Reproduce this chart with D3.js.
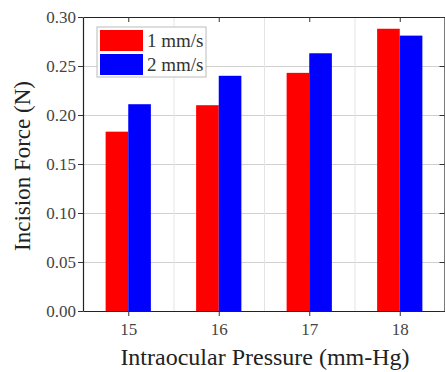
<!DOCTYPE html>
<html>
<head>
<meta charset="utf-8">
<script src="https://cdn.jsdelivr.net/npm/d3@7"></script>
<style>
  body { margin: 0; background: #fff; }
</style>
</head>
<body>
<div id="chart"></div>
<script>
// data
const pressures = [15, 16, 17, 18];
const speed1 = [0.183, 0.210, 0.243, 0.288];
const speed2 = [0.211, 0.240, 0.263, 0.281];
const seriesNames = ['1 mm/s', '2 mm/s'];
const seriesColors = ['#ff0000', '#0000ff'];
const yTicks = [0, 0.05, 0.10, 0.15, 0.20, 0.25, 0.30];

const FONT = 'Liberation Serif';
const W = 445, H = 372;
const margin = { top: 17, right: 0, bottom: 61, left: 83 };
const width = W - margin.left - margin.right;
const height = H - margin.top - margin.bottom;

const svg = d3.select('#chart').append('svg')
  .attr('width', W)
  .attr('height', H)
  .style('font-family', FONT);

const g = svg.append('g')
  .attr('transform', `translate(${margin.left},${margin.top})`);

const x = d3.scaleLinear().domain([14.5, 18.5]).range([0, width]);
const y = d3.scaleLinear().domain([0, 0.30]).range([height, 0]);
const barW = x(15.25) - x(15);

// grid
g.append('g').selectAll('line')
  .data(yTicks.slice(1, -1))
  .join('line')
  .attr('x1', 0).attr('x2', width)
  .attr('y1', d => y(d) + 0.5).attr('y2', d => y(d) + 0.5)
  .attr('stroke', '#d0d0d0').attr('stroke-width', 1);
g.append('g').selectAll('line')
  .data([15.5, 16.5, 17.5])
  .join('line')
  .attr('x1', d => x(d) + 0.5).attr('x2', d => x(d) + 0.5)
  .attr('y1', 0).attr('y2', height)
  .attr('stroke', '#e4e4e4').attr('stroke-width', 1);

// bars
[speed1, speed2].forEach((vals, si) => {
  g.append('g').selectAll('rect')
    .data(vals)
    .join('rect')
    .attr('x', (d, i) => x(pressures[i]) - barW + si * barW)
    .attr('y', d => y(d))
    .attr('width', barW)
    .attr('height', d => height - y(d))
    .attr('fill', seriesColors[si]);
});

// axes
const yAxis = g.append('g')
  .call(d3.axisLeft(y).tickValues(yTicks).tickFormat(d3.format('.2f')).tickSize(5).tickSizeOuter(0));
const xAxis = g.append('g')
  .attr('transform', `translate(0,${height})`)
  .call(d3.axisBottom(x).tickValues(pressures).tickFormat(d3.format('d')).tickSize(5).tickSizeOuter(0));
g.append('g')
  .call(d3.axisTop(x).tickValues(pressures).tickFormat('').tickSize(-5).tickSizeOuter(0));
g.append('g')
  .attr('transform', `translate(${width - 0.5},0)`)
  .call(d3.axisRight(y).tickValues(yTicks).tickFormat('').tickSize(-5).tickSizeOuter(0));

g.selectAll('.domain').attr('stroke', '#222').attr('stroke-width', 1.2);
g.selectAll('.tick line').attr('stroke', '#333');
yAxis.selectAll('text').style('font-family', FONT).attr('font-size', 17).attr('fill', '#444').attr('x', -7);
xAxis.selectAll('text').style('font-family', FONT).attr('font-size', 17).attr('fill', '#444').attr('dy', '0.95em');

// axis titles
svg.append('text')
  .attr('x', 265).attr('y', 365)
  .attr('text-anchor', 'middle')
  .attr('font-size', 24).attr('fill', '#222')
  .text('Intraocular Pressure (mm-Hg)');
svg.append('text')
  .attr('transform', 'translate(30,166) rotate(-90)')
  .attr('text-anchor', 'middle')
  .attr('font-size', 23).attr('fill', '#222')
  .text('Incision Force (N)');

// legend
const leg = svg.append('g').attr('transform', 'translate(97,27)');
leg.append('rect')
  .attr('width', 109).attr('height', 50)
  .attr('fill', '#fff').attr('stroke', '#bbb');
seriesNames.forEach((name, i) => {
  leg.append('rect')
    .attr('x', 3).attr('y', 3 + i * 24)
    .attr('width', 43).attr('height', 21)
    .attr('fill', seriesColors[i]);
  leg.append('text')
    .attr('x', 50).attr('y', 20 + i * 24)
    .attr('font-size', 19).attr('fill', '#333')
    .text(name);
});
</script>
</body>
</html>
